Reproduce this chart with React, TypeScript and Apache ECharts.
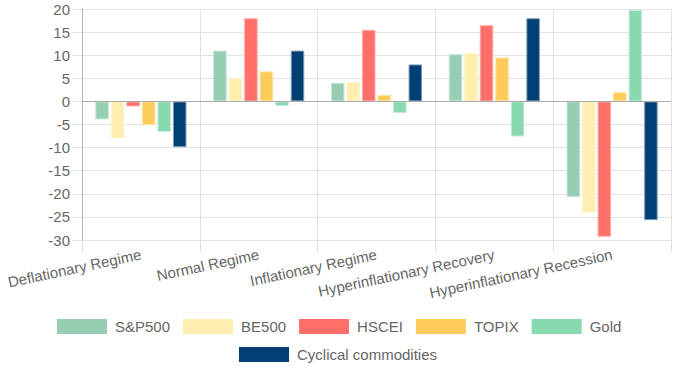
import React, { useEffect, useRef } from "react";
import * as echarts from "echarts";

const categories = [
  "Deflationary Regime",
  "Normal Regime",
  "Inflationary Regime",
  "Hyperinflationary Recovery",
  "Hyperinflationary Recession",
];

const sp500 = [-3.9, 11.0, 4.0, 10.2, -20.7];
const be500 = [-8.0, 5.1, 4.2, 10.5, -24.1];
const hscei = [-1.1, 18.0, 15.5, 16.5, -29.3];
const topix = [-5.1, 6.5, 1.4, 9.5, 2.0];
const gold = [-6.6, -1.0, -2.5, -7.6, 19.8];
const cyclical = [-9.9, 11.0, 8.0, 18.0, -25.7];

const yTicks = { min: -30, max: 20, interval: 5 };

const seriesDefs = [
  { name: "S&P500", data: sp500, color: "#96ceb4", border: "#c4e4d5" },
  { name: "BE500", data: be500, color: "#ffeead", border: "#fff5d2" },
  { name: "HSCEI", data: hscei, color: "#ff6f69", border: "#ffaba7" },
  { name: "TOPIX", data: topix, color: "#ffcc5c", border: "#ffe29e" },
  { name: "Gold", data: gold, color: "#88d8b0", border: "#c0ebd5" },
  { name: "Cyclical commodities", data: cyclical, color: "#003f74", border: "#7d9cb8" },
];

const FONT = "'Liberation Sans', Arial, Helvetica, sans-serif";
const GRID = "#e2e2e2";
const TEXT = "#666666";

export default function App() {
  const ref = useRef<HTMLDivElement>(null);

  useEffect(() => {
    if (!ref.current) return;
    const chart = echarts.init(ref.current, undefined, { renderer: "svg" });
    const legendText = {
      fontSize: 15,
      color: TEXT,
      fontFamily: FONT,
      padding: [0, 0, 0, 3],
    };
    const legendBase = {
      padding: 0,
      itemWidth: 50,
      itemHeight: 15,
      itemGap: 13,
      icon: "rect",
      itemStyle: { borderWidth: 0 },
      textStyle: legendText,
    };
    chart.setOption({
      animation: false,
      textStyle: { fontFamily: FONT },
      grid: { left: 82, right: 4, top: 9, bottom: 135, containLabel: false },
      legend: [
        {
          ...legendBase,
          data: seriesDefs.slice(0, 5).map((s) => s.name),
          left: 57,
          top: 319,
        },
        {
          ...legendBase,
          data: [seriesDefs[5].name],
          left: 239,
          top: 347,
        },
      ],
      xAxis: {
        type: "category",
        data: categories,
        boundaryGap: true,
        axisLine: { show: true, onZero: false, lineStyle: { color: GRID } },
        axisTick: { show: true, length: 12, lineStyle: { color: GRID } },
        splitLine: { show: true, lineStyle: { color: GRID } },
        axisLabel: {
          interval: 0,
          rotate: 12,
          fontSize: 15,
          color: TEXT,
          margin: 14,
          fontFamily: FONT,
        },
      },
      yAxis: {
        type: "value",
        min: yTicks.min,
        max: yTicks.max,
        interval: yTicks.interval,
        axisLine: { show: true, lineStyle: { color: "#b5b5b5" } },
        axisTick: { show: true, length: 10, lineStyle: { color: GRID } },
        splitLine: { show: true, lineStyle: { color: GRID } },
        axisLabel: { fontSize: 15, color: TEXT, margin: 12, fontFamily: FONT },
      },
      series: seriesDefs.map((s, i) => ({
        type: "bar",
        name: s.name,
        data: s.data,
        barWidth: 13.5,
        barGap: "15%",
        itemStyle: { color: s.color, borderColor: s.border, borderWidth: 1 },
        ...(i === 0
          ? {
              markLine: {
                silent: true,
                symbol: ["none", "none"],
                label: { show: false },
                lineStyle: { color: "#aaaaaa", type: "solid", width: 1 },
                data: [{ yAxis: 0 }],
              },
            }
          : {}),
      })),
    });
    return () => chart.dispose();
  }, []);

  return (
    <div
      ref={ref}
      style={{ position: "fixed", left: 0, top: 0, width: 675, height: 375, background: "#fff" }}
    />
  );
}
